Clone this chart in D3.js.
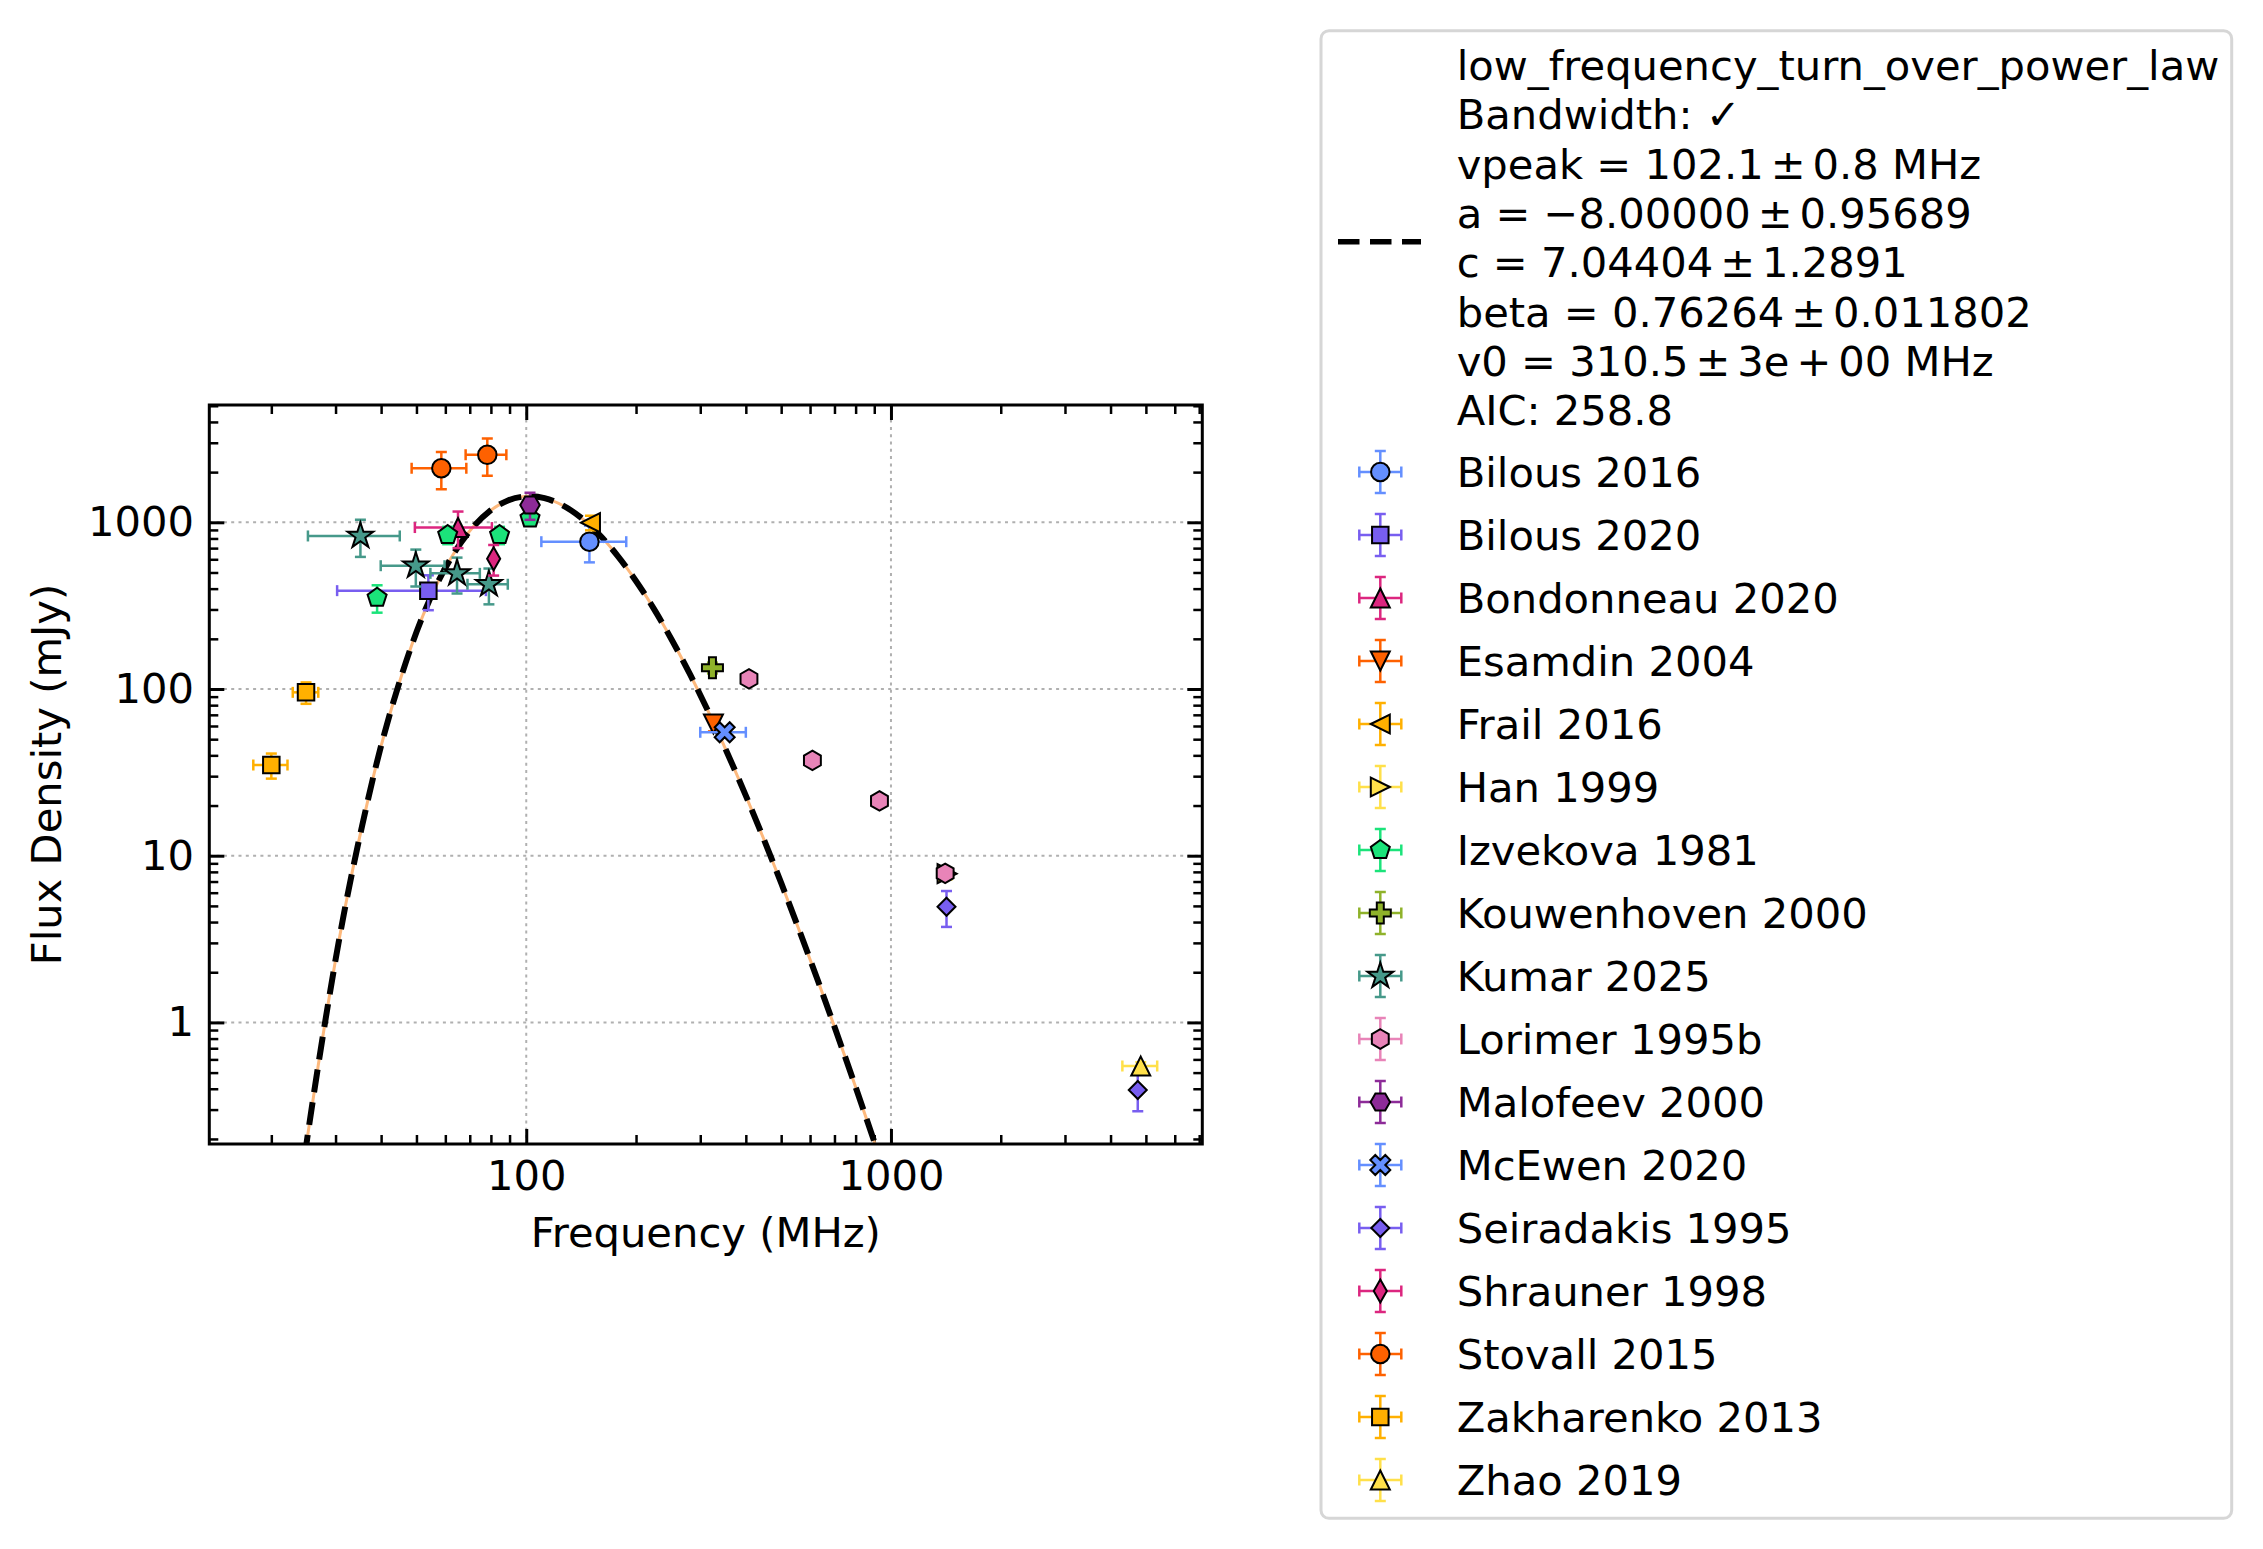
<!DOCTYPE html>
<html>
<head>
<meta charset="utf-8">
<script src="https://cdn.jsdelivr.net/npm/d3@7"></script>
<style>
  body { margin: 0; background: #fff; }
  svg text { font-family: "DejaVu Sans", sans-serif; fill: #000; }
</style>
</head>
<body>
<svg id="chart"></svg>
<script>
// each row: [frequency MHz, flux mJy, freq error, flux error]
const bilous2016 = [[149, 765, 39, 190]];
const bilous2020 = [[53.9, 389, 23.6, 92]];
const bondonneau2020 = [[65, 930, 15.5, 230]];
const esamdin2004 = [[326, 61.7, 0, 6]];
const frail2016 = [[150, 995, 0, 100]];
const han1999 = [[1425, 7.8, 0, 0.6]];
const izvekova1981 = [[39, 353, 0, 66], [60.9, 839, 0, 100], [84.5, 839, 0, 100], [102.4, 1057, 0, 100]];
const kouwenhoven2000 = [[324, 134, 0, 10]];
const kumar2025 = [[35.1, 828, 9.9, 208], [49.8, 549, 9.9, 137], [64.6, 494, 10, 120], [79.0, 425, 10, 103]];
const lorimer1995b = [[408, 115, 0, 8], [609, 37.3, 0, 2.5], [930, 21.3, 0, 1.6], [1408, 7.84, 0, 0.5]];
const malofeev2000 = [[102.4, 1270, 0, 235]];
const mcewen2020 = [[350, 55.0, 50, 4]];
const seiradakis1995 = [[1420, 4.94, 0, 1.2], [4750, 0.393, 0, 0.1]];
const shrauner1998 = [[81.4, 605, 0, 126]];
const stovall2015 = [[58.5, 2110, 10, 530], [78.2, 2540, 10, 640]];
const zakharenko2013 = [[20, 35, 2.15, 6], [24.9, 95.5, 2, 14]];
const zhao2019 = [[4840, 0.547, 530, 0.03]];

// fitted curve (low_frequency_turn_over_power_law)
const fitFreq = [24.0, 25.1, 28.2, 31.6, 35.5, 39.8, 44.7, 50.1, 56.2, 63.1, 70.8, 79.4, 89.1, 100,
  112.2, 125.9, 141.3, 158.5, 177.8, 199.5, 223.9, 251.2, 281.8, 316.2, 354.8, 398.1, 446.7,
  501.2, 562.3, 631.0, 707.9, 794.3, 891.3, 1000];
const fitFlux = [0.0985, 0.203, 1.06, 4.44, 15.2, 43.8, 106.4, 221.8, 402.7, 643.4, 914, 1167, 1352, 1431,
  1396, 1262, 1066, 844.6, 631.6, 448.1, 302.7, 195.6, 121.4, 72.57, 41.93, 23.48, 12.77,
  6.77, 3.50, 1.77, 0.879, 0.428, 0.205, 0.0966];

// thin spaces around the math operators, as in the original mathtext
const fitText = [
  "low_frequency_turn_over_power_law",
  "Bandwidth: \u2713",
  "vpeak = 102.1\u2006\u00b1\u20060.8 MHz",
  "a = \u22128.00000\u2006\u00b1\u20060.95689",
  "c = 7.04404\u2006\u00b1\u20061.2891",
  "beta = 0.76264\u2006\u00b1\u20060.011802",
  "v0 = 310.5\u2006\u00b1\u20063e\u2006+\u200600 MHz",
  "AIC: 258.8"
];

const xTicks = [100, 1000];
const yTicks = [1, 10, 100, 1000];

const refs = [
  ["Bilous 2016", bilous2016], ["Bilous 2020", bilous2020], ["Bondonneau 2020", bondonneau2020],
  ["Esamdin 2004", esamdin2004], ["Frail 2016", frail2016], ["Han 1999", han1999],
  ["Izvekova 1981", izvekova1981], ["Kouwenhoven 2000", kouwenhoven2000], ["Kumar 2025", kumar2025],
  ["Lorimer 1995b", lorimer1995b], ["Malofeev 2000", malofeev2000], ["McEwen 2020", mcewen2020],
  ["Seiradakis 1995", seiradakis1995], ["Shrauner 1998", shrauner1998], ["Stovall 2015", stovall2015],
  ["Zakharenko 2013", zakharenko2013], ["Zhao 2019", zhao2019]
];

// marker style per reference
const styles = {
  "Bilous 2016": ["#648fff", "o"], "Bilous 2020": ["#785ef0", "s"], "Bondonneau 2020": ["#dc267f", "^"],
  "Esamdin 2004": ["#fe6100", "v"], "Frail 2016": ["#ffb000", "<"], "Han 1999": ["#ffe04a", ">"],
  "Izvekova 1981": ["#1be37a", "p"], "Kouwenhoven 2000": ["#8fb22a", "P"], "Kumar 2025": ["#46998a", "*"],
  "Lorimer 1995b": ["#e884b8", "h"], "Malofeev 2000": ["#8d2b98", "H"], "McEwen 2020": ["#648fff", "X"],
  "Seiradakis 1995": ["#785ef0", "D"], "Shrauner 1998": ["#dc267f", "d"], "Stovall 2015": ["#fe6100", "o"],
  "Zakharenko 2013": ["#ffb000", "s"], "Zhao 2019": ["#ffe04a", "^"]
};
const markerSize = { o: 18.5, s: 16.5, "^": 19, v: 19, "<": 19, ">": 19, p: 20, h: 19.5, H: 19.5,
  "*": 27, D: 18, d: 23, P: 21, X: 20 };

const W = 2263, H = 1549;
const plot = { left: 209.3, right: 1202.3, top: 405, bottom: 1144 };
const fontPx = 41.67;

const svg = d3.select("#chart").attr("width", W).attr("height", H);

const x = d3.scaleLog().domain([13.52, 7139]).range([plot.left, plot.right]);
const y = d3.scaleLog().domain([0.1865, 5054]).range([plot.bottom, plot.top]);

function minorTicks(scale) {
  const [a, b] = scale.domain();
  const out = [];
  for (let k = Math.floor(Math.log10(a)); k <= Math.ceil(Math.log10(b)); k++) {
    for (let m = 2; m <= 9; m++) {
      const v = m * Math.pow(10, k);
      if (v >= a && v <= b) out.push(v);
    }
  }
  return out;
}

// grid
const grid = svg.append("g");
xTicks.forEach((t) => {
  grid.append("line").attr("x1", x(t)).attr("x2", x(t)).attr("y1", plot.top).attr("y2", plot.bottom);
});
yTicks.forEach((t) => {
  grid.append("line").attr("x1", plot.left).attr("x2", plot.right).attr("y1", y(t)).attr("y2", y(t));
});
grid.selectAll("line").attr("stroke", "#b0b0b0").attr("stroke-width", 2).attr("stroke-dasharray", "3,4.3");

// axes, ticks pointing inward on all four sides
function styleAxis(g, w) {
  g.select(".domain").remove();
  g.selectAll(".tick line").attr("stroke", "#000").attr("stroke-width", w);
  g.selectAll(".tick text").attr("font-size", fontPx).attr("font-family", "DejaVu Sans").attr("fill", "#000");
}
const fmt = d3.format("d");
const axes = svg.append("g");
axes.append("g").attr("transform", `translate(0,${plot.bottom})`)
  .call(d3.axisBottom(x).tickValues(xTicks).tickFormat(fmt).tickSizeInner(-15).tickSizeOuter(0).tickPadding(16))
  .call(styleAxis, 3);
axes.append("g").attr("transform", `translate(0,${plot.bottom})`)
  .call(d3.axisBottom(x).tickValues(minorTicks(x)).tickFormat("").tickSizeInner(-9).tickSizeOuter(0))
  .call(styleAxis, 2.5);
axes.append("g").attr("transform", `translate(0,${plot.top})`)
  .call(d3.axisTop(x).tickValues(xTicks).tickFormat("").tickSizeInner(-15).tickSizeOuter(0))
  .call(styleAxis, 3);
axes.append("g").attr("transform", `translate(0,${plot.top})`)
  .call(d3.axisTop(x).tickValues(minorTicks(x)).tickFormat("").tickSizeInner(-9).tickSizeOuter(0))
  .call(styleAxis, 2.5);
axes.append("g").attr("transform", `translate(${plot.left},0)`)
  .call(d3.axisLeft(y).tickValues(yTicks).tickFormat(fmt).tickSizeInner(-15).tickSizeOuter(0).tickPadding(15.3))
  .call(styleAxis, 3);
axes.append("g").attr("transform", `translate(${plot.left},0)`)
  .call(d3.axisLeft(y).tickValues(minorTicks(y)).tickFormat("").tickSizeInner(-9).tickSizeOuter(0))
  .call(styleAxis, 2.5);
axes.append("g").attr("transform", `translate(${plot.right},0)`)
  .call(d3.axisRight(y).tickValues(yTicks).tickFormat("").tickSizeInner(-15).tickSizeOuter(0))
  .call(styleAxis, 3);
axes.append("g").attr("transform", `translate(${plot.right},0)`)
  .call(d3.axisRight(y).tickValues(minorTicks(y)).tickFormat("").tickSizeInner(-9).tickSizeOuter(0))
  .call(styleAxis, 2.5);

svg.append("text")
  .attr("x", (plot.left + plot.right) / 2).attr("y", 1247)
  .attr("text-anchor", "middle").attr("font-size", fontPx)
  .text("Frequency (MHz)");
svg.append("text")
  .attr("transform", `translate(61,${(plot.top + plot.bottom) / 2}) rotate(-90)`)
  .attr("text-anchor", "middle").attr("font-size", fontPx)
  .text("Flux Density (mJy)");

// clip for the plotted content
svg.append("clipPath").attr("id", "clip").append("rect")
  .attr("x", plot.left).attr("y", plot.top)
  .attr("width", plot.right - plot.left).attr("height", plot.bottom - plot.top);

const fitPts = fitFreq.map((f, i) => [f, fitFlux[i]]);
const line = d3.line().x((d) => x(d[0])).y((d) => y(d[1])).curve(d3.curveCatmullRom);
const body = svg.append("g").attr("clip-path", "url(#clip)");
body.append("path").attr("d", line(fitPts)).attr("fill", "none")
  .attr("stroke", "#fdb97d").attr("stroke-width", 3);
body.append("path").attr("d", line(fitPts)).attr("fill", "none")
  .attr("stroke", "#000").attr("stroke-width", 6).attr("stroke-dasharray", "23,10");

function markerPath(m, s) {
  const r = s / 2;
  const poly = (pts) => "M" + pts.map((p) => p[0].toFixed(2) + "," + p[1].toFixed(2)).join("L") + "Z";
  const reg = (n, rad, rot) => d3.range(n).map((i) => {
    const a = rot + (i * 2 * Math.PI) / n;
    return [rad * Math.sin(a), -rad * Math.cos(a)];
  });
  switch (m) {
    case "o": return d3.symbol(d3.symbolCircle, Math.PI * r * r)();
    case "s": return poly([[-r, -r], [r, -r], [r, r], [-r, r]]);
    case "^": return poly([[0, -r], [r, r], [-r, r]]);
    case "v": return poly([[0, r], [r, -r], [-r, -r]]);
    case "<": return poly([[-r, 0], [r, -r], [r, r]]);
    case ">": return poly([[r, 0], [-r, -r], [-r, r]]);
    case "p": return poly(reg(5, r, 0));
    case "h": return poly(reg(6, r, 0));
    case "H": return poly(reg(6, r, Math.PI / 6));
    case "*": return poly(d3.range(10).map((i) => {
      const a = (i * Math.PI) / 5, rad = i % 2 ? r * 0.382 : r;
      return [rad * Math.sin(a), -rad * Math.cos(a)];
    }));
    case "D": return poly([[0, -r], [r, 0], [0, r], [-r, 0]]);
    case "d": return poly([[0, -r], [0.57 * r, 0], [0, r], [-0.57 * r, 0]]);
    case "P": {
      const u = s / 6;
      return poly([[-u, -3 * u], [u, -3 * u], [u, -u], [3 * u, -u], [3 * u, u], [u, u], [u, 3 * u],
        [-u, 3 * u], [-u, u], [-3 * u, u], [-3 * u, -u], [-u, -u]]);
    }
    case "X": {
      const u = s / 4;
      return poly([[-u, -2 * u], [0, -u], [u, -2 * u], [2 * u, -u], [u, 0], [2 * u, u], [u, 2 * u],
        [0, u], [-u, 2 * u], [-2 * u, u], [-u, 0], [-2 * u, -u]]);
    }
  }
}

function errBar(g, x1, y1, x2, y2, color, horiz) {
  g.append("line").attr("x1", x1).attr("y1", y1).attr("x2", x2).attr("y2", y2);
  const c = 5.5;
  [[x1, y1], [x2, y2]].forEach(([cx, cy]) => {
    if (horiz) g.append("line").attr("x1", cx).attr("x2", cx).attr("y1", cy - c).attr("y2", cy + c);
    else g.append("line").attr("x1", cx - c).attr("x2", cx + c).attr("y1", cy).attr("y2", cy);
  });
  g.selectAll("line").attr("stroke", color).attr("stroke-width", 2.5);
}

// data points with error bars
refs.forEach(([name, rows]) => {
  const [color, m] = styles[name];
  const g = body.append("g");
  const bars = g.append("g");
  rows.forEach(([f, s, fe, se]) => {
    if (fe > 0) errBar(bars.append("g"), x(f - fe), y(s), x(f + fe), y(s), color, true);
    if (se > 0) errBar(bars.append("g"), x(f), y(s + se), x(f), y(s - se), color, false);
  });
  g.selectAll(".pt").data(rows).join("path")
    .attr("transform", (d) => `translate(${x(d[0])},${y(d[1])})`)
    .attr("d", markerPath(m, markerSize[m]))
    .attr("fill", color).attr("stroke", "#000").attr("stroke-width", 2);
});

// frame
svg.append("rect").attr("x", plot.left).attr("y", plot.top)
  .attr("width", plot.right - plot.left).attr("height", plot.bottom - plot.top)
  .attr("fill", "none").attr("stroke", "#000").attr("stroke-width", 3);

// legend
const legend = svg.append("g");
legend.append("rect").attr("x", 1321).attr("y", 30.7).attr("width", 910.7).attr("height", 1487.6)
  .attr("rx", 8).attr("fill", "#fff").attr("stroke", "#d6d6d6").attr("stroke-width", 3);
legend.append("line").attr("x1", 1338).attr("x2", 1421).attr("y1", 241.7).attr("y2", 241.7)
  .attr("stroke", "#000").attr("stroke-width", 5.5).attr("stroke-dasharray", "21.5,10.5");
const ft = legend.append("text").attr("font-size", fontPx);
fitText.forEach((t, i) => {
  ft.append("tspan").attr("x", 1456.7).attr("y", 80 + i * 49.3).text(t);
});

refs.forEach(([name], i) => {
  const [color, m] = styles[name];
  const cy = 472 + i * 63, cx = 1380.3;
  const g = legend.append("g");
  errBar(g.append("g"), cx - 21, cy, cx + 21, cy, color, true);
  errBar(g.append("g"), cx, cy - 21, cx, cy + 21, color, false);
  g.append("path").attr("transform", `translate(${cx},${cy})`)
    .attr("d", markerPath(m, markerSize[m]))
    .attr("fill", color).attr("stroke", "#000").attr("stroke-width", 2);
  g.append("text").attr("x", 1456.7).attr("y", cy + 15).attr("font-size", fontPx).text(name);
});
</script>
</body>
</html>
